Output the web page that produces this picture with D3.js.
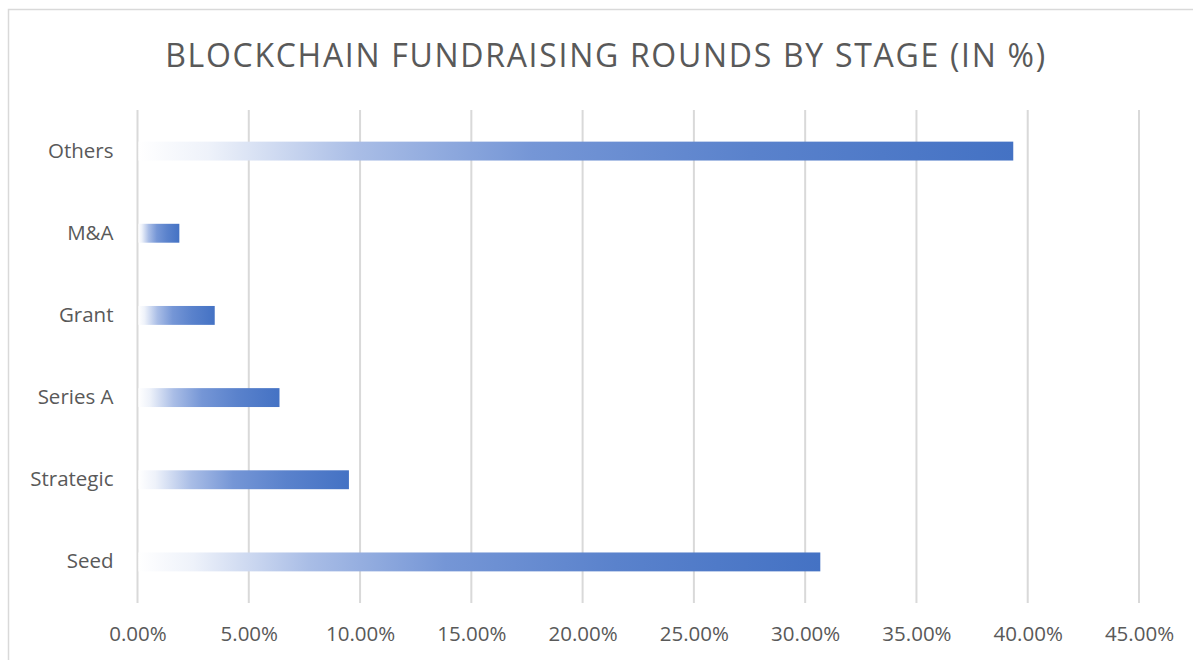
<!DOCTYPE html>
<html>
<head>
<meta charset="utf-8">
<script src="https://cdn.jsdelivr.net/npm/d3@7"></script>
<style>
    body { margin: 0; background: #fff; }
    text { font-family: "Open Sans", "Noto Sans", sans-serif; fill: #595959; }
</style>
</head>
<body>
<div id="plot-container"></div>
<script>
const categories = ["Others", "M&A", "Grant", "Series A", "Strategic", "Seed"];
const shares = [39.35, 1.88, 3.47, 6.38, 9.5, 30.68];
const tickValues = [0, 5, 10, 15, 20, 25, 30, 35, 40, 45];

const data = categories.map((c, i) => ({ stage: c, value: shares[i] }));

const width = 1193, height = 660;
const margin = { top: 110, right: 54, bottom: 57, left: 137.5 };

const svg = d3.select("#plot-container")
    .append("svg")
    .attr("width", width)
    .attr("height", height);

// chart frame
svg.append("rect")
    .attr("x", 8.5)
    .attr("y", 9.5)
    .attr("width", width + 10)
    .attr("height", height + 10)
    .attr("fill", "none")
    .attr("stroke", "#d9d9d9")
    .attr("stroke-width", 1.5);

svg.append("text")
    .attr("x", 606)
    .attr("y", 67)
    .attr("text-anchor", "middle")
    .style("font-size", "32px")
    .style("letter-spacing", "1.7px")
    .text("BLOCKCHAIN FUNDRAISING ROUNDS BY STAGE (IN %)");

const xScale = d3.scaleLinear()
    .domain([0, 45])
    .range([margin.left, width - margin.right]);

const yScale = d3.scaleBand()
    .domain(categories)
    .range([margin.top, height - margin.bottom])
    .paddingInner(0.77)
    .paddingOuter(0.385);

// gridlines
svg.append("g")
    .selectAll("line")
    .data(tickValues)
    .enter()
    .append("line")
    .attr("x1", d => xScale(d))
    .attr("x2", d => xScale(d))
    .attr("y1", margin.top)
    .attr("y2", height - margin.bottom)
    .attr("stroke", "#d9d9d9")
    .attr("stroke-width", 2);

const defs = svg.append("defs");
const grad = defs.append("linearGradient")
    .attr("id", "barGrad")
    .attr("x1", "0%").attr("x2", "100%")
    .attr("y1", "0%").attr("y2", "0%");
[
    [0, "#ffffff"],
    [0.08, "#eef2fa"],
    [0.25, "#a9bde6"],
    [0.45, "#7596d6"],
    [0.7, "#5a82cc"],
    [1, "#4472c4"]
].forEach(s => grad.append("stop").attr("offset", s[0]).attr("stop-color", s[1]));

svg.append("g")
    .selectAll("rect")
    .data(data)
    .enter()
    .append("rect")
    .attr("x", xScale(0) + 1)
    .attr("y", d => yScale(d.stage))
    .attr("width", d => xScale(d.value) - xScale(0) - 1)
    .attr("height", yScale.bandwidth())
    .attr("fill", "url(#barGrad)");

// x axis labels
svg.append("g")
    .attr("transform", "translate(0," + (height - margin.bottom) + ")")
    .call(d3.axisBottom(xScale).tickValues(tickValues).tickSize(0).tickPadding(23)
        .tickFormat(d => d.toFixed(2) + "%"))
    .call(g => g.select(".domain").remove())
    .selectAll("text")
    .style("font-size", "20.5px")
    .attr("fill", "#595959");

// y axis labels
svg.append("g")
    .attr("transform", "translate(" + (margin.left - 24) + ",0)")
    .call(d3.axisLeft(yScale).tickSize(0).tickPadding(0))
    .call(g => g.select(".domain").remove())
    .selectAll("text")
    .style("font-size", "20.5px")
    .attr("fill", "#595959");
</script>
</body>
</html>
